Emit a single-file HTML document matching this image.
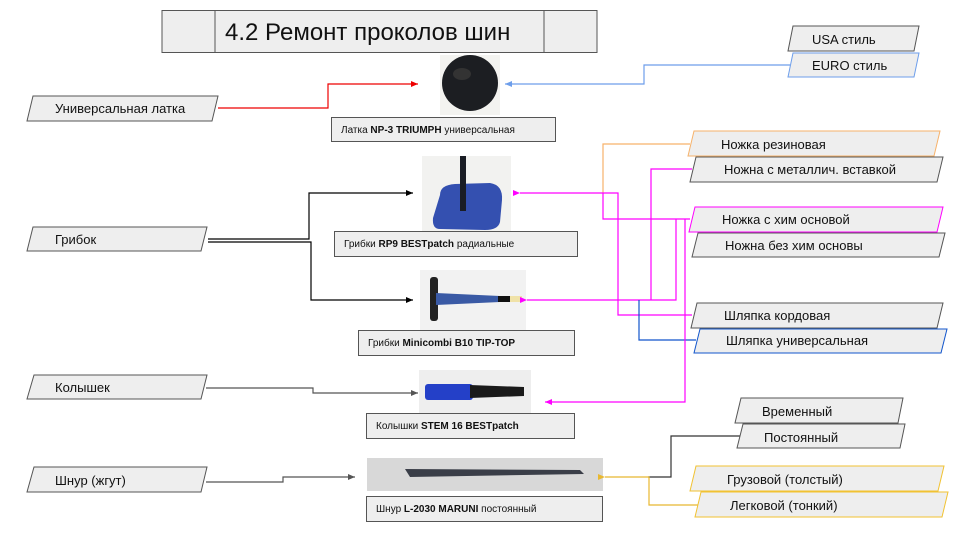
<!DOCTYPE html>
<html><head><meta charset="utf-8"><style>
html,body{margin:0;padding:0;background:#fff;}
svg{display:block;font-family:"Liberation Sans",sans-serif;}
</style></head><body>
<svg width="960" height="540" viewBox="0 0 960 540" xmlns="http://www.w3.org/2000/svg">
<defs>
<marker id="ak" markerWidth="8" markerHeight="8" refX="7" refY="4" orient="auto" markerUnits="userSpaceOnUse"><path d="M0,1 L7,4 L0,7 z" fill="#000"/></marker>
<marker id="ag" markerWidth="8" markerHeight="8" refX="7" refY="4" orient="auto" markerUnits="userSpaceOnUse"><path d="M0,1 L7,4 L0,7 z" fill="#555"/></marker>
<marker id="arr" markerWidth="8" markerHeight="8" refX="7" refY="4" orient="auto" markerUnits="userSpaceOnUse"><path d="M0,1 L7,4 L0,7 z" fill="#e00"/></marker>
<marker id="ab" markerWidth="8" markerHeight="8" refX="7" refY="4" orient="auto" markerUnits="userSpaceOnUse"><path d="M0,1 L7,4 L0,7 z" fill="#6d9eeb"/></marker>
<marker id="am" markerWidth="8" markerHeight="8" refX="7" refY="4" orient="auto" markerUnits="userSpaceOnUse"><path d="M0,1 L7,4 L0,7 z" fill="#f0f"/></marker>
<marker id="ay" markerWidth="8" markerHeight="8" refX="7" refY="4" orient="auto" markerUnits="userSpaceOnUse"><path d="M0,1 L7,4 L0,7 z" fill="#e8b830"/></marker>
</defs>

<rect x="162" y="10.5" width="435" height="42" fill="#eee" stroke="#555"/>
<line x1="215" y1="10.5" x2="215" y2="52.5" stroke="#555"/>
<line x1="544" y1="10.5" x2="544" y2="52.5" stroke="#555"/>
<text x="225" y="40" font-size="24" fill="#111">4.2 Ремонт проколов шин</text>

<g fill="#eee" stroke="#555" stroke-width="1">
<polygon points="33,96 218,96 212,121 27,121"/>
<polygon points="33,227 207,227 201,251 27,251"/>
<polygon points="34,375 207,375 201,399 27,399"/>
<polygon points="34,467 207,467 201,492 27,492"/>
</g>
<g font-size="13" fill="#111">
<text x="55" y="113">Универсальная латка</text>
<text x="55" y="244">Грибок</text>
<text x="55" y="392">Колышек</text>
<text x="55" y="485">Шнур (жгут)</text>
</g>

<rect x="440" y="55" width="60" height="60" fill="#f3f3f0"/>
<circle cx="470" cy="83" r="28" fill="#1c1e22"/>
<ellipse cx="462" cy="74" rx="9" ry="6" fill="#333"/>

<rect x="422" y="156" width="89" height="75" fill="#f2f2f0"/>
<path d="M440,195 Q440,185 455,184 L490,183 Q503,185 502,200 L500,222 Q498,230 485,230 L440,229 Q432,229 433,218 Z" fill="#3450b0"/>
<rect x="460" y="156" width="6" height="55" fill="#1a1d25"/>

<rect x="420" y="270" width="106" height="60" fill="#f2f2f2"/>
<rect x="430" y="277" width="8" height="44" rx="3" fill="#222"/>
<polygon points="436,293 500,296 500,302 436,305" fill="#3a5aa5"/>
<rect x="498" y="296" width="12" height="6" fill="#111"/>
<rect x="510" y="296" width="12" height="6" fill="#f0e2a8"/>

<rect x="419" y="370" width="112" height="43" fill="#eeeeee"/>
<rect x="425" y="384" width="48" height="16" rx="3" fill="#2440c8"/>
<polygon points="470,385 524,387 524,396 470,398" fill="#1a1a1a"/>

<rect x="367" y="458" width="236" height="33" fill="#d8d8d8"/>
<polygon points="405,469 580,470 584,474 410,477" fill="#3a3e48"/>

<g fill="#eee" stroke="#555">
<rect x="331.5" y="117.5" width="224" height="24"/>
<rect x="334.5" y="231.5" width="243" height="25"/>
<rect x="358.5" y="330.5" width="216" height="25"/>
<rect x="366.5" y="413.5" width="208" height="25"/>
<rect x="366.5" y="496.5" width="236" height="25"/>
</g>
<g font-size="10" fill="#111">
<text x="341" y="133">Латка <tspan font-weight="bold">NP-3 TRIUMPH</tspan> универсальная</text>
<text x="344" y="247">Грибки <tspan font-weight="bold">RP9 BESTpatch</tspan> радиальные</text>
<text x="368" y="346">Грибки <tspan font-weight="bold">Minicombi B10 TIP-TOP</tspan></text>
<text x="376" y="429">Колышки <tspan font-weight="bold">STEM 16 BESTpatch</tspan></text>
<text x="376" y="512">Шнур <tspan font-weight="bold">L-2030 MARUNI</tspan> постоянный</text>
</g>

<g fill="none" stroke-width="1.2">
<polyline points="218,108 328,108 328,84 418,84" stroke="#e00" marker-end="url(#arr)"/>
<polyline points="790,65 644,65 644,84 505,84" stroke="#6d9eeb" marker-end="url(#ab)"/>
<polyline points="208,239 309,239 309,193 413,193" stroke="#000" marker-end="url(#ak)"/>
<polyline points="208,242 311,242 311,300 413,300" stroke="#000" marker-end="url(#ak)"/>
<polyline points="206,388 313,388 313,393 418,393" stroke="#555" marker-end="url(#ag)"/>
<polyline points="206,482 283,482 283,477 355,477" stroke="#555" marker-end="url(#ag)"/>
<polyline points="690,144 603,144 603,193" stroke="#f6b26b"/>
<polyline points="520,193 618,193 618,315 692,315" stroke="#f0f" marker-start="url(#am)"/>
<polyline points="603,193 603,219 690,219" stroke="#f0f"/>
<polyline points="527,300 676,300 676,219" stroke="#f0f" marker-start="url(#am)"/>
<polyline points="651,300 651,169 692,169" stroke="#f0f"/>
<polyline points="639,300 639,340 696,340" stroke="#1155cc"/>
<polyline points="685,219 685,402 545,402" stroke="#f0f" marker-end="url(#am)"/>
<polyline points="740,436 671,436 671,477 648,477" stroke="#333"/>
<polyline points="605,477 649,477 649,505 698,505" stroke="#e8b830" marker-start="url(#ay)"/>
</g>

<g fill="#eee" stroke-width="1">
<polygon points="793,26 919,26 914,51 788,51" stroke="#555"/>
<polygon points="793,53 919,53 914,77 788,77" stroke="#6d9eeb"/>
<polygon points="694,131 940,131 934,156 688,156" stroke="#f6b26b"/>
<polygon points="696,157 943,157 937,182 690,182" stroke="#555"/>
<polygon points="695,207 943,207 937,232 689,232" stroke="#f0f"/>
<polygon points="698,233 945,233 939,257 692,257" stroke="#555"/>
<polygon points="697,303 943,303 937,328 691,328" stroke="#555"/>
<polygon points="700,329 947,329 941,353 694,353" stroke="#1155cc"/>
<polygon points="741,398 903,398 898,423 735,423" stroke="#555"/>
<polygon points="743,424 905,424 900,448 737,448" stroke="#555"/>
<polygon points="696,466 944,466 938,491 690,491" stroke="#f1c232"/>
<polygon points="701,492 948,492 942,517 695,517" stroke="#f1c232"/>
</g>
<g font-size="13" fill="#111">
<text x="812" y="44">USA стиль</text>
<text x="812" y="70">EURO стиль</text>
<text x="721" y="149">Ножка резиновая</text>
<text x="724" y="174">Ножна с металлич. вставкой</text>
<text x="722" y="224">Ножка с хим основой</text>
<text x="725" y="250">Ножна без хим основы</text>
<text x="724" y="320">Шляпка кордовая</text>
<text x="726" y="345">Шляпка универсальная</text>
<text x="762" y="416">Временный</text>
<text x="764" y="442">Постоянный</text>
<text x="727" y="484">Грузовой (толстый)</text>
<text x="730" y="510">Легковой (тонкий)</text>
</g>
</svg>
</body></html>
